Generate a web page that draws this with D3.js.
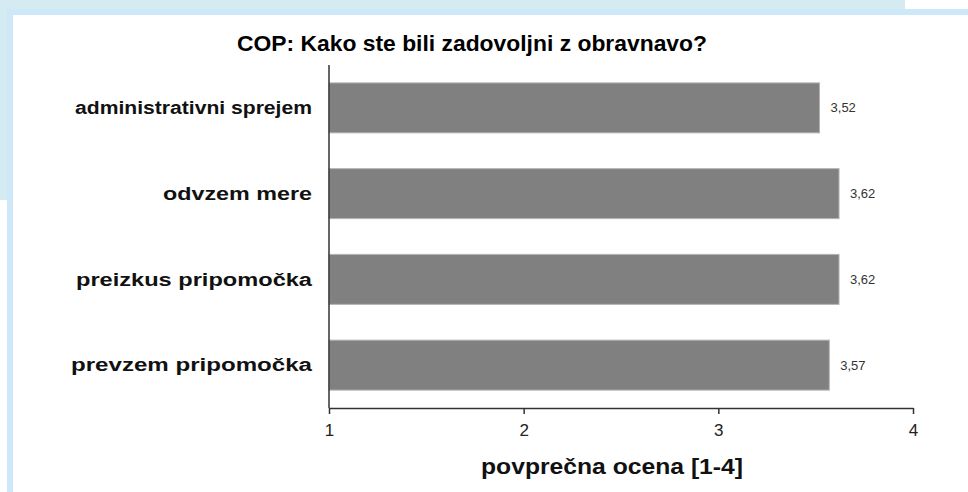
<!DOCTYPE html>
<html>
<head>
<meta charset="utf-8">
<script src="https://cdn.jsdelivr.net/npm/d3@7"></script>
<style>
  body { margin: 0; background: #fff; }
  svg { display: block; font-family: "Liberation Sans", Arial, sans-serif; }
</style>
</head>
<body>
<div id="chart"></div>
<script>
let categories = ["administrativni sprejem", "odvzem mere", "preizkus pripomočka", "prevzem pripomočka"];
let values = [3.52, 3.62, 3.62, 3.57];
let tickValues = [1, 2, 3, 4];
let title = "COP: Kako ste bili zadovoljni z obravnavo?";
let xTitle = "povprečna ocena [1-4]";

// rendered widths of the category labels in the original (layout only)
let labelWidth = {
  "administrativni sprejem": 237,
  "odvzem mere": 149,
  "preizkus pripomočka": 236,
  "prevzem pripomočka": 241
};

let width = 968, height = 492;

let svg = d3.select("#chart").append("svg")
  .attr("width", width)
  .attr("height", height);

// background frame (light blue page edges)
svg.append("rect").attr("x", 0).attr("y", 0).attr("width", 905).attr("height", 9).attr("fill", "#d5ebf2");
svg.append("rect").attr("x", 0).attr("y", 0).attr("width", 7).attr("height", 200).attr("fill", "#d5ebf2");
svg.append("rect").attr("x", 7).attr("y", 9).attr("width", width - 7).attr("height", 6).attr("fill", "#cce8f9");
svg.append("rect").attr("x", 7).attr("y", 9).attr("width", 6).attr("height", height - 9).attr("fill", "#cce8f9");

let x = d3.scaleLinear().domain([1, 4]).range([329, 913]);
let y = d3.scaleBand().domain(categories).range([65, 408]).paddingInner(0.417).paddingOuter(0.2085);

// title
svg.append("text")
  .attr("x", 472).attr("y", 51)
  .attr("text-anchor", "middle")
  .attr("textLength", 470).attr("lengthAdjust", "spacingAndGlyphs")
  .style("font-size", "22px").style("font-weight", "bold")
  .attr("fill", "#000")
  .text(title);

// bars
svg.append("g")
  .selectAll("rect")
  .data(values)
  .join("rect")
  .attr("x", x(1))
  .attr("y", (d, i) => y(categories[i]))
  .attr("width", d => x(d) - x(1))
  .attr("height", y.bandwidth())
  .attr("fill", "#808080")
  .attr("stroke", "#b4b4b4")
  .attr("stroke-width", 1);

// value labels
svg.append("g")
  .selectAll("text")
  .data(values)
  .join("text")
  .attr("x", d => x(d) + 11)
  .attr("y", (d, i) => y(categories[i]) + y.bandwidth() / 2)
  .attr("dy", "0.35em")
  .style("font-size", "13px")
  .attr("fill", "#333")
  .text(d => d.toFixed(2).replace(".", ","));

// category labels
svg.append("g")
  .selectAll("text")
  .data(categories)
  .join("text")
  .attr("x", 312)
  .attr("y", d => y(d) + y.bandwidth() / 2)
  .attr("dy", "0.35em")
  .attr("text-anchor", "end")
  .attr("textLength", d => labelWidth[d])
  .attr("lengthAdjust", "spacingAndGlyphs")
  .style("font-size", "18px").style("font-weight", "bold")
  .attr("fill", "#111")
  .text(d => d);

// y axis line
svg.append("line")
  .attr("x1", x(1)).attr("x2", x(1))
  .attr("y1", 65).attr("y2", 408)
  .attr("stroke", "#333").attr("stroke-width", 1.5);

// x axis
let xAxis = svg.append("g")
  .attr("transform", "translate(0,408)")
  .call(d3.axisBottom(x).tickValues(tickValues).tickSize(6).tickSizeOuter(0).tickFormat(d3.format("d")));
xAxis.select(".domain").attr("stroke", "#333").attr("stroke-width", 1.5);
xAxis.selectAll(".tick line").attr("stroke", "#333").attr("stroke-width", 1.5);
xAxis.selectAll(".tick text")
  .attr("y", 16)
  .style("font-size", "17px")
  .style("font-family", "'Liberation Sans', Arial, sans-serif")
  .attr("fill", "#222");

svg.append("text")
  .attr("x", 612).attr("y", 474)
  .attr("text-anchor", "middle")
  .attr("textLength", 262).attr("lengthAdjust", "spacingAndGlyphs")
  .style("font-size", "22px").style("font-weight", "bold")
  .attr("fill", "#111")
  .text(xTitle);
</script>
</body>
</html>
